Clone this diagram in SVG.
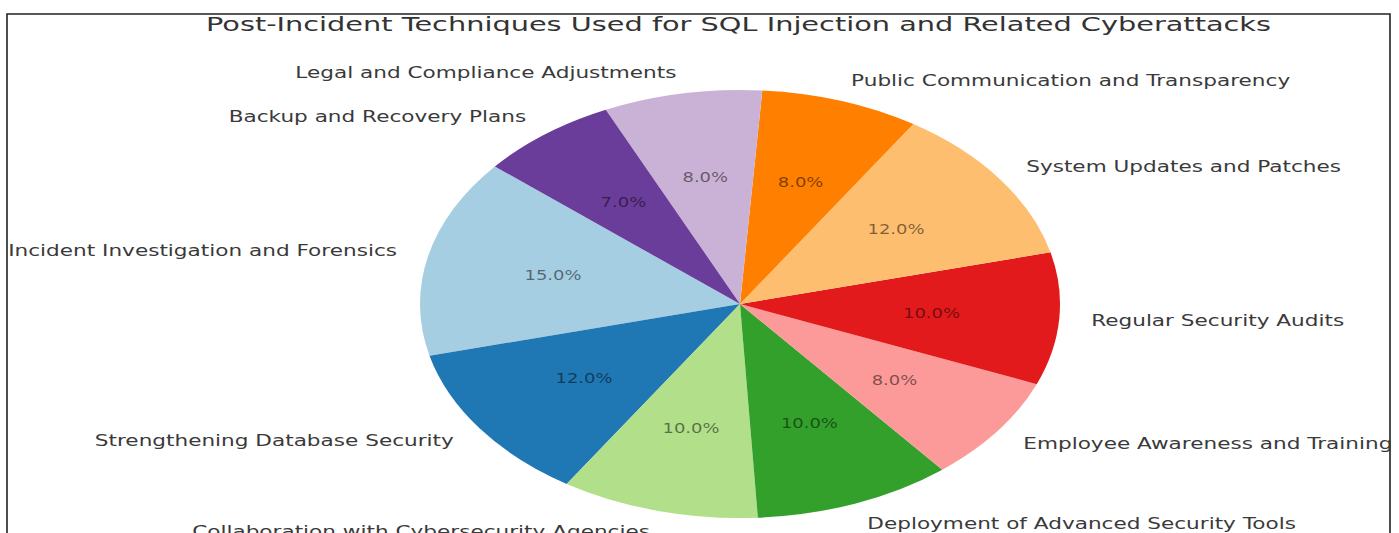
<svg xmlns="http://www.w3.org/2000/svg" width="1399" height="533" viewBox="0 0 1399 533">
<style>
.lbl{font-family:"DejaVu Sans",sans-serif;font-size:15px;fill:#3a3a3a;dominant-baseline:central}
.pct{font-family:"DejaVu Sans",sans-serif;font-size:13.5px;fill:#000;fill-opacity:0.5;text-anchor:middle;dominant-baseline:central}
.ttl{font-family:"DejaVu Sans",sans-serif;font-size:19px;fill:#333;text-anchor:middle}
.end{text-anchor:end}
.start{text-anchor:start}
</style>
<rect width="1399" height="533" fill="#fff"/>
<path d="M7,540 V14 H1390 V540" fill="none" stroke="#222" stroke-width="1.6"/>
<text class="ttl" transform="translate(738.5,30.5) scale(1.515,1)">Post-Incident Techniques Used for SQL Injection and Related Cyberattacks</text>
<g id="pie">
<g id="incident"><path d="M740,304 L494.87,166.44 A320,214 0 0 0 429.50,355.77 Z" fill="#a6cee3"/>
<text class="pct" transform="translate(553,275) scale(1.33,1)">15.0%</text>
<text class="lbl end" transform="translate(397,251) scale(1.44,1)">Incident Investigation and Forensics</text></g>
<g id="strengthening"><path d="M740,304 L429.50,355.77 A320,214 0 0 0 566.65,483.88 Z" fill="#1f78b4"/>
<text class="pct" transform="translate(584,378.7) scale(1.33,1)">12.0%</text>
<text class="lbl end" transform="translate(453.8,441) scale(1.44,1)">Strengthening Database Security</text></g>
<g id="collaboration"><path d="M740,304 L566.65,483.88 A320,214 0 0 0 757.86,517.67 Z" fill="#b2df8a"/>
<text class="pct" transform="translate(691,428) scale(1.33,1)">10.0%</text>
<text class="lbl end" transform="translate(650,531.6) scale(1.44,1)">Collaboration with Cybersecurity Agencies</text></g>
<g id="deployment"><path d="M740,304 L757.86,517.67 A320,214 0 0 0 942.32,469.80 Z" fill="#33a02c"/>
<text class="pct" transform="translate(809.4,423.7) scale(1.33,1)">10.0%</text>
<text class="lbl start" transform="translate(867.3,523.5) scale(1.44,1)">Deployment of Advanced Security Tools</text></g>
<g id="employee"><path d="M740,304 L942.32,469.80 A320,214 0 0 0 1036.70,384.17 Z" fill="#fb9a99"/>
<text class="pct" transform="translate(894.5,380.2) scale(1.33,1)">8.0%</text>
<text class="lbl start" transform="translate(1023.3,443.7) scale(1.44,1)">Employee Awareness and Training</text></g>
<g id="regular"><path d="M740,304 L1036.70,384.17 A320,214 0 0 0 1050.50,252.23 Z" fill="#e31a1c"/>
<text class="pct" transform="translate(931.5,313) scale(1.33,1)">10.0%</text>
<text class="lbl start" transform="translate(1091.2,320.4) scale(1.44,1)">Regular Security Audits</text></g>
<g id="system"><path d="M740,304 L1050.50,252.23 A320,214 0 0 0 913.35,124.12 Z" fill="#fdbf6f"/>
<text class="pct" transform="translate(896,229.3) scale(1.33,1)">12.0%</text>
<text class="lbl start" transform="translate(1026.2,167) scale(1.44,1)">System Updates and Patches</text></g>
<g id="public"><path d="M740,304 L913.35,124.12 A320,214 0 0 0 762.32,90.52 Z" fill="#ff7f00"/>
<text class="pct" transform="translate(800.6,182.2) scale(1.33,1)">8.0%</text>
<text class="lbl start" transform="translate(851.1,80.7) scale(1.44,1)">Public Communication and Transparency</text></g>
<g id="legal"><path d="M740,304 L762.32,90.52 A320,214 0 0 0 605.78,109.74 Z" fill="#cab2d6"/>
<text class="pct" transform="translate(705.3,177.7) scale(1.33,1)">8.0%</text>
<text class="lbl end" transform="translate(676.5,72.5) scale(1.44,1)">Legal and Compliance Adjustments</text></g>
<g id="backup"><path d="M740,304 L605.78,109.74 A320,214 0 0 0 494.87,166.44 Z" fill="#6a3d9a"/>
<text class="pct" transform="translate(623.4,202) scale(1.33,1)">7.0%</text>
<text class="lbl end" transform="translate(526.2,117) scale(1.44,1)">Backup and Recovery Plans</text></g>
</g>
<g id="connectors"/>
</svg>
